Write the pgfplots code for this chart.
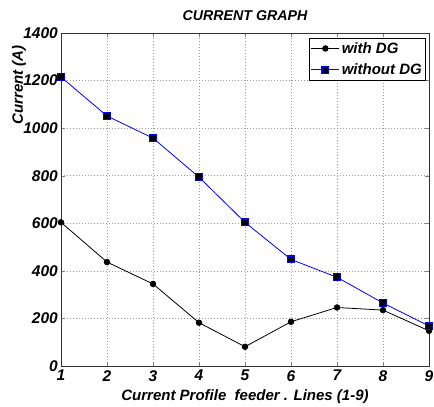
\documentclass[border=0pt]{standalone}
\usepackage{fontspec}
\setmainfont{Liberation Sans}
\usepackage{pgfplots}
\pgfplotsset{compat=1.18}

\begin{document}
\begin{tikzpicture}
\begin{axis}[
    name=main,
    width=368pt, height=333pt,
    scale only axis,
    xmin=1, xmax=9,
    ymin=0, ymax=1400,
    xtick={1,...,9},
    ytick={0,200,...,1400},
    tick align=inside,
    major tick length=4pt,
    grid=major,
    major grid style={gray!80, dash pattern=on 1pt off 2pt, line width=0.5pt},
    axis line style={black!80, line width=0.6pt},
    /pgf/number format/assume math mode=true,
    /pgf/number format/1000 sep={},
    tick label style={font=\fontsize{15.5}{17}\selectfont\bfseries\itshape},
    yticklabel style={inner sep=0pt, xshift=-3pt},
    xticklabel style={inner sep=0pt, yshift=-4pt},
    every axis title shift/.style={},
    title={CURRENT GRAPH},
    title style={font=\fontsize{14.2}{16}\selectfont\bfseries\itshape,
        at={([yshift=6pt]axis description cs:0.5,1)}, anchor=base},
    xlabel={Current Profile\ \ feeder . Lines (1-9)},
    ylabel={Current (A)},
    label style={font=\fontsize{15}{17}\selectfont\bfseries\itshape},
    xlabel style={at={([yshift=-34pt]axis description cs:0.5,0)}, anchor=base},
    ylabel style={at={([xshift=-38pt]axis description cs:0,0.844)}, anchor=base},
    legend style={at={(0.992,0.985)}, anchor=north east,
        font=\fontsize{15}{17}\selectfont\bfseries\itshape,
        draw=black, line width=0.6pt, inner sep=2pt, row sep=5pt,
        cells={anchor=west}},
    legend image code/.code={
        \draw[#1, mark repeat=2, mark phase=2] plot coordinates {(-3pt,0pt) (11pt,0pt) (25pt,0pt)};
    },
]
\addplot[black, line width=0.8pt, mark=*, mark size=2.8pt, mark options={fill=black}] coordinates {
    (1,604) (2,437) (3,345) (4,182) (5,81) (6,186) (7,246) (8,235) (9,148)
};
\addplot[blue, line width=0.8pt, mark=square*, mark size=3.4pt, mark options={fill=black, draw=blue, line width=1.2pt}] coordinates {
    (1,1215) (2,1051) (3,958) (4,794) (5,604) (6,448) (7,373) (8,265) (9,168)
};
\legend{with DG, without DG}
\end{axis}
\pgfresetboundingbox
\path ([shift={(-61pt,-40pt)}]main.south west) rectangle ([shift={(5pt,33pt)}]main.north east);
\end{tikzpicture}
\end{document}
